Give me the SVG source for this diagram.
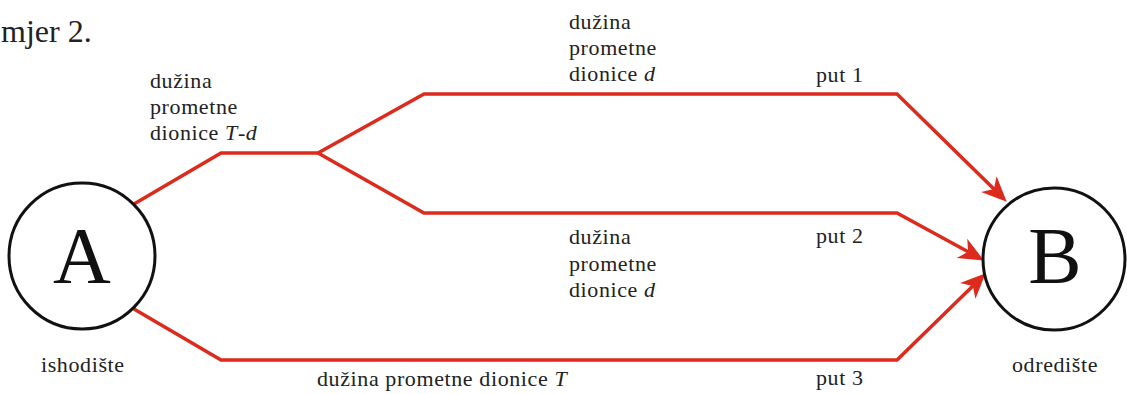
<svg xmlns="http://www.w3.org/2000/svg" width="1127" height="394" viewBox="0 0 1127 394">
<style>
  .t { font-family: "Liberation Serif", "Times New Roman", serif; font-size: 22px; letter-spacing: 0.6px; fill: #222; }
  .big { font-family: "Liberation Serif", "Times New Roman", serif; font-size: 80px; fill: #111; text-anchor: middle; }
  .node { fill: #fff; stroke: #111; stroke-width: 3; }
  .road { fill: none; stroke: #dc2a1c; stroke-width: 3.5; stroke-linejoin: miter; }
</style>
<defs>
  <marker id="arr" markerUnits="userSpaceOnUse" orient="auto" refX="0" refY="0" markerWidth="30" markerHeight="30" overflow="visible">
    <path d="M18,0 L-7,-11 L0,0 L-7,11 Z" fill="#dc2a1c"/>
  </marker>
</defs>
<rect width="1127" height="394" fill="#fff"/>
<text x="1" y="42" font-family="Liberation Serif, serif" font-size="32" fill="#222">mjer 2.</text>

<g id="connectors">
  <path class="road" d="M134,204 L221,153 L318,153 L424,94 L897,94 L993.9,189.1" marker-end="url(#arr)"/>
  <path class="road" d="M318,153 L424,213 L897,213 L968.1,251.8" marker-end="url(#arr)"/>
  <path class="road" d="M134,309 L221,360 L897,360 L972.8,285.9" marker-end="url(#arr)"/>
</g>

<g id="nodeA">
  <circle class="node" cx="82" cy="256" r="73"/>
  <text class="big" x="82" y="283">A</text>
  <text class="t" x="41" y="372">ishodište</text>
</g>
<g id="nodeB">
  <circle class="node" cx="1054" cy="259" r="71"/>
  <text class="big" x="1055" y="283">B</text>
  <text class="t" x="1012" y="372">odredište</text>
</g>

<g id="labels">
  <text class="t" x="150" y="88">dužina</text>
  <text class="t" x="150" y="114">prometne</text>
  <text class="t" x="150" y="140">dionice <tspan font-style="italic">T</tspan>-<tspan font-style="italic">d</tspan></text>

  <text class="t" x="569" y="29">dužina</text>
  <text class="t" x="569" y="55">prometne</text>
  <text class="t" x="569" y="81">dionice <tspan font-style="italic">d</tspan></text>

  <text class="t" x="569" y="244">dužina</text>
  <text class="t" x="569" y="271">prometne</text>
  <text class="t" x="569" y="297">dionice <tspan font-style="italic">d</tspan></text>

  <text class="t" x="317" y="386">dužina prometne dionice <tspan font-style="italic">T</tspan></text>

  <text class="t" x="816" y="82">put 1</text>
  <text class="t" x="816" y="243">put 2</text>
  <text class="t" x="816" y="385">put 3</text>
</g>
</svg>
